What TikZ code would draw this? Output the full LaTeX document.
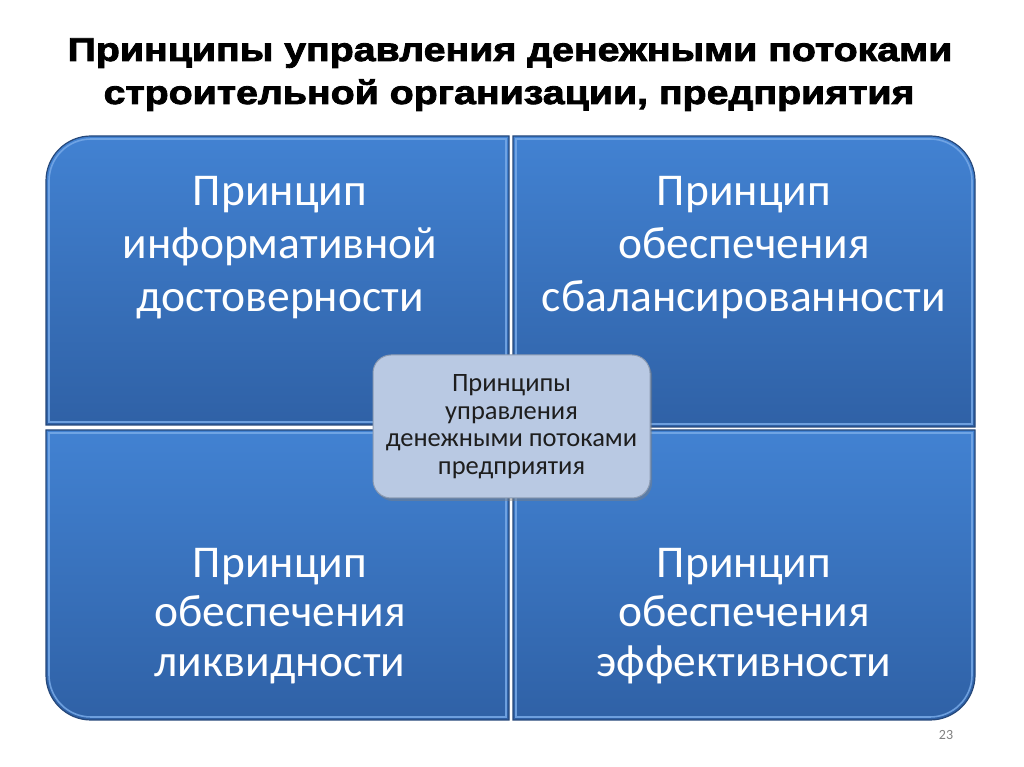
\documentclass[tikz,border=0pt]{standalone}
\usepackage{fontspec}
\setmainfont{Carlito}
\newfontfamily\titlefont[FakeStretch=1.19,FakeBold=2.6]{Liberation Sans Bold}
\usetikzlibrary{shadows}
\definecolor{qtop}{RGB}{66,130,210}
\definecolor{qbot}{RGB}{47,97,166}
\definecolor{qedge}{RGB}{38,72,122}
\definecolor{qrim}{RGB}{120,170,232}
\definecolor{cfill}{RGB}{185,201,227}
\definecolor{cedge}{RGB}{140,155,178}
\definecolor{ctext}{RGB}{30,30,30}
\tikzset{
  quad/.style={top color=qtop,bottom color=qbot,draw=qedge,line width=1.2pt},
  rim/.style={draw=qrim,line width=1.6pt,opacity=0.85},
  qtext/.style={text=white,align=center,font=\fontsize{45.5}{53}\selectfont},
  qtextb/.style={text=white,align=center,font=\fontsize{45.5}{49.5}\selectfont},
  ctr/.style={draw=cedge,fill=cfill,rounded corners=18pt,line width=1pt,
     drop shadow={shadow xshift=2pt,shadow yshift=-3pt,opacity=0.45},
     text=ctext,align=center,font=\fontsize{26.5}{27.5}\selectfont},
  ttl/.style={text=black,font=\titlefont\fontsize{33}{38}\selectfont,anchor=base},
}
\begin{document}
\begin{tikzpicture}[x=1pt,y=1pt]
\useasboundingbox (0,0) rectangle (1024,767);
\fill[white] (0,0) rectangle (1024,767);
% title
\node[ttl] (t1) at (510,706) {Принципы управления денежными потоками};
\node[ttl] (t2) at (509,663) {строительной организации, предприятия};
% quadrants
\path[quad] (46,342) -- (46,586) arc[start angle=180,end angle=90,radius=45] -- (509,631) -- (509,342) -- cycle;
\path[rim] (49,345) -- (49,586) arc[start angle=180,end angle=90,radius=42] -- (506,628) -- (506,345) -- cycle;
\path[quad] (513,340) -- (513,631) -- (930,631) arc[start angle=90,end angle=0,radius=45] -- (975,340) -- cycle;
\path[rim] (516,343) -- (516,628) -- (930,628) arc[start angle=90,end angle=0,radius=42] -- (972,343) -- cycle;
\path[quad] (46,337) -- (509,337) -- (509,47) -- (91,47) arc[start angle=270,end angle=180,radius=45] -- cycle;
\path[rim] (49,334) -- (506,334) -- (506,50) -- (91,50) arc[start angle=270,end angle=180,radius=42] -- cycle;
\path[quad] (513,337) -- (975,337) -- (975,92) arc[start angle=0,end angle=-90,radius=45] -- (513,47) -- cycle;
\path[rim] (516,334) -- (972,334) -- (972,92) arc[start angle=0,end angle=-90,radius=42] -- (516,50) -- cycle;
% quadrant texts
\node[qtext] (q1) at (280,519) {Принцип\\информативной\\достоверности};
\node[qtext] (q2) at (744,519) {Принцип\\обеспечения\\сбалансированности};
\node[qtextb] (q3) at (280,151) {Принцип\\обеспечения\\ликвидности};
\node[qtextb] (q4) at (744,151) {Принцип\\обеспечения\\эффективности};
% centre
\node[ctr,minimum width=277pt,minimum height=143pt] (c) at (511.5,340.5) {Принципы\\управления\\денежными потоками\\предприятия};
% page number
\node[text=gray,font=\fontsize{14}{16}\selectfont] (pn) at (946,32) {23};
\end{tikzpicture}
\end{document}
